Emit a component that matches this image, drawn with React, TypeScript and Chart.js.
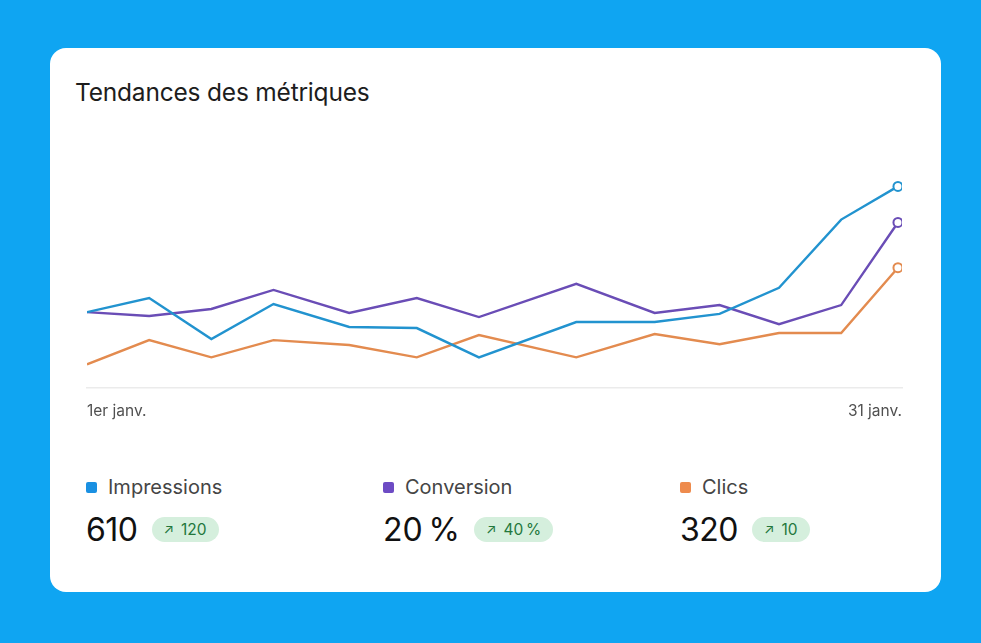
import { useEffect, useRef } from 'react';
import Chart from 'chart.js/auto';

// day of month for each sample (samples are not evenly spaced)
const xDays = [1, 3.3, 5.6, 7.9, 10.7, 13.2, 15.5, 19.1, 22, 24.4, 26.6, 28.9, 31];
const xTickLabels = ['1er janv.', '31 janv.'];

// normalised trend values (0 - 100)
const impressions = [28.8, 34.2, 18.5, 31.9, 23.1, 22.7, 11.5, 25, 25, 28.1, 38.1, 64.2, 76.9];
const conversion = [28.8, 27.3, 30, 37.3, 28.5, 34.2, 26.9, 39.6, 28.5, 31.5, 24.2, 31.5, 63.1];
const clics = [8.8, 18.1, 11.5, 18.1, 16.2, 11.5, 20, 11.5, 20.4, 16.5, 20.8, 20.8, 45.8];

const seriesNames = ['Impressions', 'Conversion', 'Clics'];
const seriesColors = ['#2293cf', '#6a4db6', '#e38b4f'];
const legendColors = ['#1a90e2', '#6d4bc4', '#ee8b4d'];
const totals = ['610', '20\u202f%', '320'];
const deltas = ['120', '40\u202f%', '10'];

const FONT = 'Inter, "Noto Sans", sans-serif';

const TrendChart = () => {
  const chartRef = useRef<HTMLCanvasElement>(null);
  const chartInstance = useRef<Chart | null>(null);

  useEffect(() => {
    if (!chartRef.current) return;
    const ctx = chartRef.current.getContext('2d');
    if (!ctx) return;

    const series = [impressions, conversion, clics];
    const lastIndex = xDays.length - 1;

    chartInstance.current = new Chart(ctx, {
      type: 'line',
      data: {
        datasets: series.map((values, s) => ({
          label: seriesNames[s],
          data: xDays.map((x, i) => ({ x, y: values[i] })),
          borderColor: seriesColors[s],
          borderWidth: 2.4,
          tension: 0,
          pointRadius: (c: any) => (c.dataIndex === lastIndex ? 4.5 : 0),
          pointBackgroundColor: '#ffffff',
          pointBorderColor: seriesColors[s],
          pointBorderWidth: 2,
          pointHoverRadius: 0,
        })),
      },
      options: {
        animation: false,
        responsive: false,
        maintainAspectRatio: false,
        layout: { padding: { left: 17, right: 18, top: 10, bottom: 0 } },
        plugins: {
          legend: { display: false },
          tooltip: { enabled: false },
        },
        scales: {
          x: {
            type: 'linear',
            min: 1,
            max: 31.15,
            grid: { display: false, drawTicks: false },
            border: { display: true, color: '#ebebeb', width: 1.5 },
            afterBuildTicks: (axis: any) => {
              axis.ticks = [{ value: axis.min }, { value: axis.max }];
            },
            ticks: {
              align: 'inner',
              maxRotation: 0,
              padding: 15,
              color: '#505050',
              font: { family: FONT, size: 15.5 },
              callback: (_v: any, i: number) => xTickLabels[i],
            },
          },
          y: {
            display: false,
            min: 0,
            max: 100,
          },
        },
      },
    });

    return () => {
      if (chartInstance.current) {
        chartInstance.current.destroy();
        chartInstance.current = null;
      }
    };
  }, []);

  return (
    <canvas
      ref={chartRef}
      width={850}
      height={320}
      style={{ position: 'absolute', left: 70, top: 116, width: 850, height: 320 }}
    />
  );
};

const App = () => {
  return (
    <div
      style={{
        position: 'fixed',
        inset: 0,
        background: '#0fa5f2',
        fontFamily: FONT,
      }}
    >
      <div
        style={{
          position: 'absolute',
          left: 50,
          top: 48,
          width: 891,
          height: 544,
          background: '#ffffff',
          borderRadius: 16,
        }}
      />
      <div
        style={{
          position: 'absolute',
          left: 75,
          top: 77,
          fontSize: 24.5,
          color: '#1d1d1d',
          letterSpacing: -0.2,
        }}
      >
        Tendances des métriques
      </div>
      <TrendChart />
      {seriesNames.map((name, i) => (
        <div key={name} style={{ position: 'absolute', left: 86 + i * 297, top: 474 }}>
          <div style={{ display: 'flex', alignItems: 'center', height: 26 }}>
            <span
              style={{
                width: 11,
                height: 11,
                borderRadius: 2,
                background: legendColors[i],
                marginRight: 11,
              }}
            />
            <span style={{ fontSize: 20, color: '#454545' }}>{name}</span>
          </div>
          <div style={{ display: 'flex', alignItems: 'center', marginTop: 12, height: 34 }}>
            <span style={{ fontSize: 32, color: '#111111', letterSpacing: -0.5 }}>{totals[i]}</span>
            <span
              style={{
                marginLeft: 14,
                height: 25,
                padding: '0 12px',
                borderRadius: 13,
                background: '#d5efdd',
                color: '#23773c',
                fontSize: 15.5,
                display: 'flex',
                alignItems: 'center',
              }}
            >
              <span style={{ fontSize: 13.5, marginRight: 7 }}>↗</span>
              {deltas[i]}
            </span>
          </div>
        </div>
      ))}
    </div>
  );
};

export default App;
